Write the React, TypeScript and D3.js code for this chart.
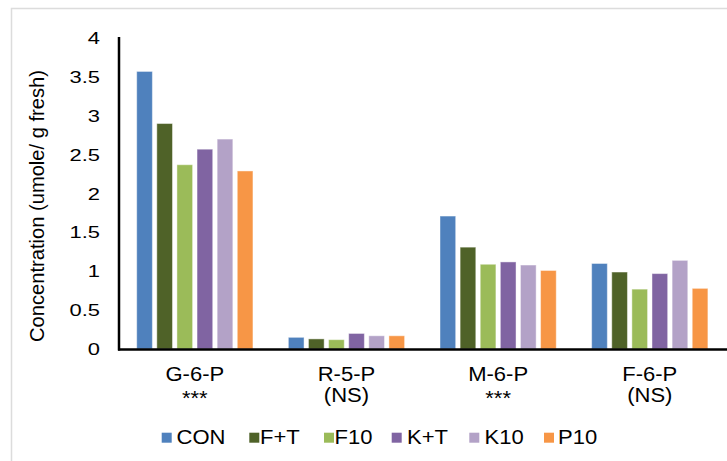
import React, { useRef, useEffect } from 'react';
import * as d3 from 'd3';

const categories = ['G-6-P', 'R-5-P', 'M-6-P', 'F-6-P'];
const significance = ['***', '(NS)', '***', '(NS)'];
const seriesNames = ['CON', 'F+T', 'F10', 'K+T', 'K10', 'P10'];
const seriesColors = ['#4f81bd', '#4f6228', '#9bbb59', '#8064a2', '#b3a2c7', '#f79646'];

const conValues = [3.57, 0.15, 1.71, 1.10];
const ftValues = [2.90, 0.13, 1.31, 0.99];
const f10Values = [2.37, 0.12, 1.09, 0.77];
const ktValues = [2.57, 0.20, 1.12, 0.97];
const k10Values = [2.70, 0.17, 1.08, 1.14];
const p10Values = [2.29, 0.17, 1.01, 0.78];
const seriesValues = [conValues, ftValues, f10Values, ktValues, k10Values, p10Values];

const yTicks = [0, 0.5, 1, 1.5, 2, 2.5, 3, 3.5, 4];
const yTitle = 'Concentration (umole/ g fresh)';

// legend layout (swatch left edges, text left edges)
const legendSwatchX = [161.7, 249.3, 324, 391.7, 469.3, 544];
const legendTextX = [176.5, 260, 334.5, 407, 484.5, 558];

const FONT = '"Liberation Sans", Arial, sans-serif';

const Chart = () => {
  const ref = useRef(null);

  useEffect(() => {
    if (!ref.current) return;
    const width = 727;
    const height = 461;
    const left = 119;
    const right = 725.6;

    d3.select(ref.current).select('svg').remove();

    const svg = d3.select(ref.current)
      .append('svg')
      .attr('width', width)
      .attr('height', height)
      .style('display', 'block')
      .style('background', '#fff');

    // light frame of the embedded chart
    svg.append('path')
      .attr('d', `M11.5,${height} V8.5 H${width}`)
      .attr('fill', 'none')
      .attr('stroke', '#dcdcdc')
      .attr('stroke-width', 1.5);

    const y = d3.scaleLinear().domain([0, 4]).range([349, 38]);

    const x0 = d3.scaleBand()
      .domain(categories)
      .range([left, right])
      .paddingInner(0)
      .paddingOuter(0);

    const x1 = d3.scaleBand()
      .domain(seriesNames)
      .range([0, x0.bandwidth()])
      .paddingInner(0.22)
      .paddingOuter(0.88);

    // bars
    seriesNames.forEach((name, si) => {
      svg.append('g')
        .selectAll('rect')
        .data(seriesValues[si])
        .enter()
        .append('rect')
        .attr('x', (d, i) => x0(categories[i]) + x1(name))
        .attr('y', d => y(d))
        .attr('width', x1.bandwidth())
        .attr('height', d => y(0) - y(d))
        .attr('fill', seriesColors[si])
        .attr('stroke', '#ffffff')
        .attr('stroke-opacity', 0.45)
        .attr('stroke-width', 1);
    });

    // axes lines
    svg.append('line')
      .attr('x1', left).attr('x2', left)
      .attr('y1', 37).attr('y2', 350.5)
      .attr('stroke', '#000').attr('stroke-width', 2.5);
    svg.append('line')
      .attr('x1', left - 1).attr('x2', width)
      .attr('y1', 349.5).attr('y2', 349.5)
      .attr('stroke', '#000').attr('stroke-width', 2.5);

    // y tick labels
    svg.append('g')
      .selectAll('text')
      .data(yTicks)
      .enter()
      .append('text')
      .attr('transform', d => `translate(100, ${y(d) + 6}) scale(1.33, 1)`)
      .attr('text-anchor', 'end')
      .style('font-family', FONT)
      .style('font-size', '16.5px')
      .attr('fill', '#000')
      .text(d => d3.format('')(d));

    // y axis title
    svg.append('text')
      .attr('transform', 'translate(44, 206) rotate(-90)')
      .attr('text-anchor', 'middle')
      .attr('textLength', 272)
      .attr('lengthAdjust', 'spacingAndGlyphs')
      .style('font-family', FONT)
      .style('font-size', '19.5px')
      .attr('fill', '#000')
      .text(yTitle);

    // category labels
    const cat = svg.append('g')
      .selectAll('g')
      .data(categories)
      .enter()
      .append('g')
      .attr('transform', d => `translate(${x0(d) + x0.bandwidth() / 2}, 0)`);

    cat.append('text')
      .attr('transform', 'translate(0, 381) scale(1.13, 1)')
      .attr('text-anchor', 'middle')
      .style('font-family', FONT)
      .style('font-size', '19.5px')
      .attr('fill', '#000')
      .text(d => d);

    cat.append('text')
      .attr('transform', (d, i) => `translate(0, ${significance[i] === '***' ? 405 : 402}) scale(1.13, 1)`)
      .attr('text-anchor', 'middle')
      .style('font-family', FONT)
      .style('font-size', '19.5px')
      .attr('fill', '#000')
      .text((d, i) => significance[i]);

    // legend
    const leg = svg.append('g')
      .selectAll('g')
      .data(seriesNames)
      .enter()
      .append('g');

    leg.append('rect')
      .attr('x', (d, i) => legendSwatchX[i])
      .attr('y', 432.7)
      .attr('width', 10)
      .attr('height', 10)
      .attr('fill', (d, i) => seriesColors[i]);

    leg.append('text')
      .attr('transform', (d, i) => `translate(${legendTextX[i]}, 444) scale(1.13, 1)`)
      .style('font-family', FONT)
      .style('font-size', '19.5px')
      .attr('fill', '#000')
      .text(d => d);
  }, []);

  return <div ref={ref} style={{ position: 'fixed', left: 0, top: 0 }} />;
};

export default function App() {
  return <Chart />;
}
